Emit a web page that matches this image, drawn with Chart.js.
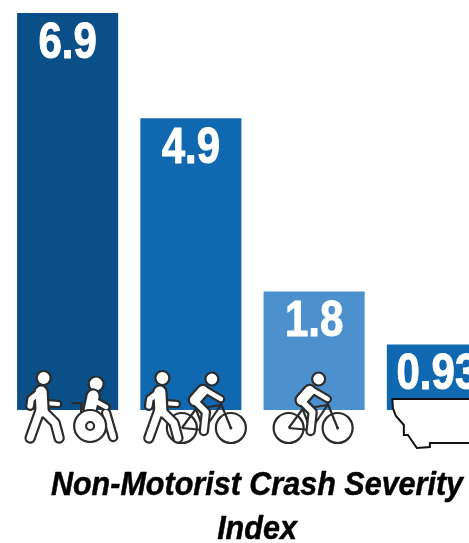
<!DOCTYPE html>
<html>
<head>
<meta charset="utf-8">
<style>
html,body{margin:0;padding:0;background:#fff;width:469px;height:543px;overflow:hidden}
canvas{display:block}
</style>
<script src="https://cdn.jsdelivr.net/npm/chart.js@4"></script>
</head>
<body>
<canvas id="c" width="514" height="560"></canvas>
<script>
const categories = ["Walking and wheelchair", "Walking and cycling", "Cycling", "Montana"];
const severityIndex = [6.9, 4.9, 1.8, 0.93];
const valueLabels = ["6.9", "4.9", "1.8", "0.93"];
const barColors = ["#0a4f88", "#1068b0", "#4c90cd", "#1068b0"];
const titleLines = ["Non-Motorist Crash Severity", "Index"];

// The source bars are not strictly proportional to their labels; a mild power axis reproduces them.
class PowerScale extends Chart.LinearScale {
  static id = "power";
  getPixelForValue(v) {
    const f = Math.pow(Math.max(v, 0) / this.max, 0.9);
    return this.bottom - f * (this.bottom - this.top);
  }
  getValueForPixel(p) {
    return this.max * Math.pow((this.bottom - p) / (this.bottom - this.top), 1 / 0.9);
  }
}
Chart.register(PowerScale);

function path(ctx, pts) {
  ctx.beginPath();
  pts.forEach((p, i) => i ? ctx.lineTo(p[0], p[1]) : ctx.moveTo(p[0], p[1]));
}
function pill(ctx, pts, w) {
  ctx.lineCap = "round"; ctx.lineJoin = "round";
  ctx.strokeStyle = "#2b2b2b"; ctx.lineWidth = w + 4.4; path(ctx, pts); ctx.stroke();
}
function pillFill(ctx, pts, w) {
  ctx.lineCap = "round"; ctx.lineJoin = "round";
  ctx.strokeStyle = "#fff"; ctx.lineWidth = w; path(ctx, pts); ctx.stroke();
}
// Draw a set of limbs as one silhouette: dark outlines first, white interior over them.
function figure(ctx, limbs) {
  limbs.forEach(l => pill(ctx, l[0], l[1]));
  limbs.forEach(l => pillFill(ctx, l[0], l[1]));
}
function disc(ctx, x, y, r, fill) {
  ctx.beginPath(); ctx.arc(x, y, r, 0, Math.PI * 2);
  ctx.fillStyle = fill; ctx.fill();
  ctx.strokeStyle = "#2b2b2b"; ctx.lineWidth = 2.2; ctx.stroke();
}
function walker(ctx, x, y) {
  ctx.save(); ctx.translate(x, y);
  disc(ctx, 0.5, -32, 7, "#fff");
  pill(ctx, [[1, -7], [15, -6]], 4);
  pillFill(ctx, [[1, -7], [15, -6]], 4);
  figure(ctx, [
    [[[-3, 0], [-13, 28]], 7],
    [[[0, 1], [12, 13], [16, 28]], 7],
    [[[-3, -18], [-12, -11], [-13, -4]], 5.5],
    [[[-2, -18], [-1, 1]], 11]
  ]);
  ctx.restore();
}
function wheelchair(ctx, x, y) {
  ctx.save(); ctx.translate(x, y);
  disc(ctx, 6, -26, 7.5, "#fff");
  ctx.strokeStyle = "#2b2b2b"; ctx.lineWidth = 2.2; ctx.lineCap = "round";
  path(ctx, [[-18, -7], [-9, -7], [-9, 4]]); ctx.stroke();
  figure(ctx, [
    [[[16, 3], [23, 27]], 6],
    [[[3, -14], [0, 0]], 11],
    [[[3, -10], [16, -3]], 4.5]
  ]);
  disc(ctx, 0, 16, 16, "#fff");
  disc(ctx, 0, 16, 4, "#fff");
  ctx.restore();
}
function cyclist(ctx, x, y) {
  ctx.save(); ctx.translate(x, y);
  disc(ctx, 0, 0, 15, "rgba(255,255,255,0)");
  disc(ctx, 49, 0, 15, "rgba(255,255,255,0)");
  ctx.beginPath(); ctx.arc(49, 0, 1.5, 0, 7); ctx.fillStyle = "#2b2b2b"; ctx.fill();
  ctx.strokeStyle = "#2b2b2b"; ctx.lineWidth = 2.2; ctx.lineJoin = "round";
  path(ctx, [[0, 0], [14, -19], [22, 2], [0, 0]]); ctx.stroke();
  path(ctx, [[14, -19], [39, -23], [22, 2]]); ctx.stroke();
  path(ctx, [[38, -27], [49, 0]]); ctx.stroke();
  disc(ctx, 30, -49, 6.5, "#fff");
  figure(ctx, [
    [[[12, -28], [24, -16], [22, 3]], 6],
    [[[22, -39], [39, -29]], 4.5],
    [[[21, -37], [13, -28]], 10]
  ]);
  ctx.restore();
}
function montana(ctx, x, y) {
  const pts = [[-45, -11], [-44.5, -2], [-41.5, 6], [-33.5, 15], [-33.5, 25], [-29.5, 25],
    [-20.5, 38], [-7.5, 37], [-7.5, 33], [90, 33], [90, -11]];
  ctx.save(); ctx.translate(x, y);
  path(ctx, pts); ctx.closePath();
  ctx.fillStyle = "#fff"; ctx.fill();
  ctx.strokeStyle = "#111"; ctx.lineWidth = 2; ctx.lineJoin = "miter"; ctx.stroke();
  ctx.restore();
}
function condensedText(ctx, text, x, y, sx, weight) {
  ctx.save(); ctx.translate(x, y); ctx.scale(sx, 1);
  ctx.lineWidth = weight; ctx.lineJoin = "round";
  ctx.strokeStyle = ctx.fillStyle;
  ctx.strokeText(text, 0, 0);
  ctx.fillText(text, 0, 0);
  ctx.restore();
}

const overlay = {
  id: "overlay",
  afterDatasetsDraw(chart) {
    const ctx = chart.ctx;
    const xs = chart.scales.x, ys = chart.scales.y;
    const base = ys.getPixelForValue(0);
    const cx = i => xs.getPixelForValue(i);
    ctx.save();
    montana(ctx, cx(3), base);
    wheelchair(ctx, cx(0) + 22.5, base);
    walker(ctx, cx(0) - 24.5, base);
    cyclist(ctx, cx(1) - 9, base + 18);
    walker(ctx, cx(1) - 29, base);
    cyclist(ctx, cx(2) - 25.5, base + 18);
    ctx.textAlign = "center"; ctx.textBaseline = "middle";
    ctx.fillStyle = "#fff";
    ctx.font = "bold 50px 'Liberation Sans'";
    severityIndex.forEach((v, i) => {
      condensedText(ctx, valueLabels[i], cx(i), ys.getPixelForValue(v) + 31, 0.84, 1);
    });
    ctx.fillStyle = "#000";
    ctx.font = "italic bold 33px 'Liberation Sans'";
    titleLines.forEach((t, i) => condensedText(ctx, t, 257, 486 + i * 44, 0.925, 0.5));
    ctx.restore();
  }
};

new Chart(document.getElementById("c"), {
  type: "bar",
  data: {
    labels: categories,
    datasets: [{ data: severityIndex, backgroundColor: barColors, borderWidth: 0,
      barPercentage: 0.82, categoryPercentage: 1 }]
  },
  options: {
    responsive: false, animation: false, devicePixelRatio: 1,
    layout: { padding: { left: 6, right: 15, top: 13, bottom: 150 } },
    scales: {
      x: { display: false },
      y: { type: "power", display: false, min: 0, max: 6.9 }
    },
    plugins: {
      legend: { display: false },
      tooltip: { enabled: false },
      title: { display: false }
    }
  },
  plugins: [overlay]
});
</script>
</body>
</html>
